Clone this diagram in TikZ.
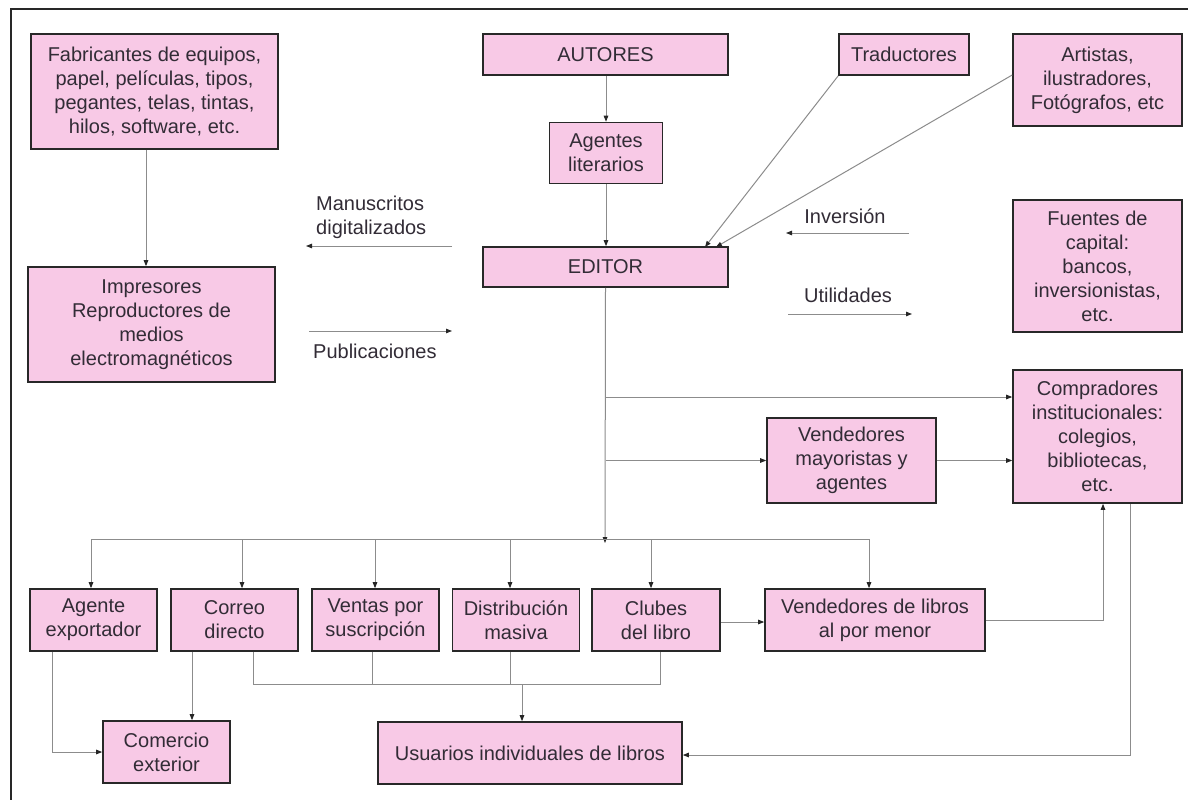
\documentclass[tikz,border=0pt]{standalone}
\usepackage{fontspec}
\setmainfont{Liberation Sans}
\usetikzlibrary{arrows.meta,calc}
\definecolor{boxpink}{RGB}{248,201,230}
\definecolor{ink}{RGB}{50,44,54}
\definecolor{wire}{RGB}{140,140,140}
\definecolor{edge}{RGB}{40,40,40}
\tikzset{
  box/.style={draw=edge,line width=1.6pt,fill=boxpink,text=ink,align=center,
    inner sep=0pt,font=\fontsize{20}{24}\selectfont},
  wirel/.style={draw=wire,line width=1pt},
  arr/.style={wirel,-{Triangle[length=6pt,width=4.5pt,color=black!85]}},
  lbl/.style={text=ink,font=\fontsize{20}{24}\selectfont,inner sep=0pt,align=left}
}
\begin{document}
\begin{tikzpicture}[x=1pt,y=-1pt]
\useasboundingbox (0,0) rectangle (1188,800);
\fill[white] (0,0) rectangle (1188,800);
% frame (top and left only visible)
\draw[line width=2pt,edge] (11,800) -- (11,9) -- (1188,9);

% boxes
\node[box,minimum width=247pt,minimum height=115pt] (fab) at (154.5,91.5)
  {Fabricantes de equipos,\\papel, películas, tipos,\\pegantes, telas, tintas,\\hilos, software, etc.};
\node[box,minimum width=247pt,minimum height=115pt] (imp) at (151.5,324.5)
  {Impresores\\Reproductores de\\medios\\electromagnéticos};
\node[box,minimum width=245pt,minimum height=41pt] (aut) at (605.5,54.5) {AUTORES};
\node[box,minimum width=113pt,minimum height=61pt] (agl) at (606,153) {Agentes\\literarios};
\node[box,minimum width=245pt,minimum height=40pt] (edi) at (605.5,267) {EDITOR};
\node[box,minimum width=130pt,minimum height=41pt] (tra) at (904,54.5) {Traductores};
\node[box,minimum width=169pt,minimum height=92pt] (art) at (1097.5,80)
  {Artistas,\\ilustradores,\\Fotógrafos, etc};
\node[box,minimum width=169pt,minimum height=132pt] (fue) at (1097.5,266)
  {Fuentes de\\capital:\\bancos,\\inversionistas,\\etc.};
\node[box,minimum width=169pt,minimum height=133pt] (com) at (1097.5,436.5)
  {Compradores\\institucionales:\\colegios,\\bibliotecas,\\etc.};
\node[box,minimum width=169pt,minimum height=85pt] (may) at (851.5,460.5)
  {Vendedores\\mayoristas y\\agentes};
\node[box,minimum width=127pt,minimum height=62pt] (age) at (93.5,620) {Agente\\exportador};
\node[box,minimum width=127pt,minimum height=62pt] (cor) at (234.5,620) {Correo\\directo};
\node[box,minimum width=127pt,minimum height=62pt] (ven) at (375.5,620) {Ventas por\\suscripción};
\node[box,minimum width=127pt,minimum height=62pt] (dis) at (516,620) {Distribución\\masiva};
\node[box,minimum width=128pt,minimum height=62pt] (clu) at (656,620) {Clubes\\del libro};
\node[box,minimum width=220pt,minimum height=62pt] (vlib) at (875,620) {Vendedores de libros\\al por menor};
\node[box,minimum width=127pt,minimum height=62pt] (cex) at (166.5,752) {Comercio\\exterior};
\node[box,minimum width=304pt,minimum height=62pt] (usu) at (530,753) {Usuarios individuales de libros};

% free labels
\node[lbl,anchor=west] (man) at (316,217) {Manuscritos\\digitalizados};
\node[lbl,anchor=west] (pub) at (313,351) {Publicaciones};
\node[lbl] (inv) at (845,216) {Inversión};
\node[lbl] (uti) at (848,295) {Utilidades};

% free-end coordinates
\coordinate (manA) at (452,246);
\coordinate (manB) at (306,246);
\coordinate (pubA) at (309,331);
\coordinate (pubB) at (452,331);
\coordinate (invA) at (909,233);
\coordinate (invB) at (786,233);
\coordinate (utiA) at (788,314);
\coordinate (utiB) at (912,314);
\draw[arr] (manA) -- (manB);
\draw[arr] (pubA) -- (pubB);
\draw[arr] (invA) -- (invB);
\draw[arr] (utiA) -- (utiB);

% top connectors
\draw[arr] ([xshift=-8.5pt]fab.south) -- ([xshift=-8.5pt]fab.south |- imp.north);
\draw[arr] (aut.south -| agl.north) -- (agl.north);
\draw[arr] (agl.south) -- (agl.south |- edi.north);
\coordinate (traT) at (705,247);
\coordinate (artT) at (716,247);
\draw[arr] (tra.south west) -- (traT);
\draw[arr] ([yshift=5pt]art.west) -- (artT);

% editor trunk
\coordinate (trunk) at (605,539);
\draw[arr] (edi.south) -- ([yshift=-4pt]trunk);
\coordinate (c1) at (605,397);
\draw[arr] (c1) -- (c1 -| com.west);
\draw[arr] (edi.south |- may.west) -- (may.west);
\draw[arr] (may.east) -- (may.east -| com.west);

% bus
\draw[wirel] (91,539) -- (869,539);
\foreach \n/\x in {age/91,cor/242,ven/375,dis/510,clu/651,vlib/869}
  \draw[arr] (\x,539) -- (\x,0 |- \n.north);

% clubes -> vendedores
\draw[arr] ([yshift=-2pt]clu.east) -- ([yshift=-2pt]vlib.west);
% vendedores -> compradores
\draw[arr] (vlib.east) -| ([xshift=5.5pt]com.south);
% compradores -> usuarios
\draw[arr] ([xshift=33pt]com.south) |- ([yshift=-2pt]usu.east);
% agente -> comercio
\draw[arr] ([xshift=-41pt]age.south) |- (cex.west);
% correo -> comercio
\draw[arr] (192,0 |- cor.south) -- (192,0 |- cex.north);
% collector to usuarios
\coordinate (colL) at (253,684);
\coordinate (colR) at (660,684);
\draw[wirel] (253,0 |- cor.south) -- (colL) -- (colR) -- (660,0 |- clu.south);
\draw[wirel] (372,0 |- ven.south) -- (372,684);
\draw[wirel] (510,0 |- dis.south) -- (510,684);
\draw[arr] (522,684) -- (522,0 |- usu.north);
\end{tikzpicture}
\end{document}
